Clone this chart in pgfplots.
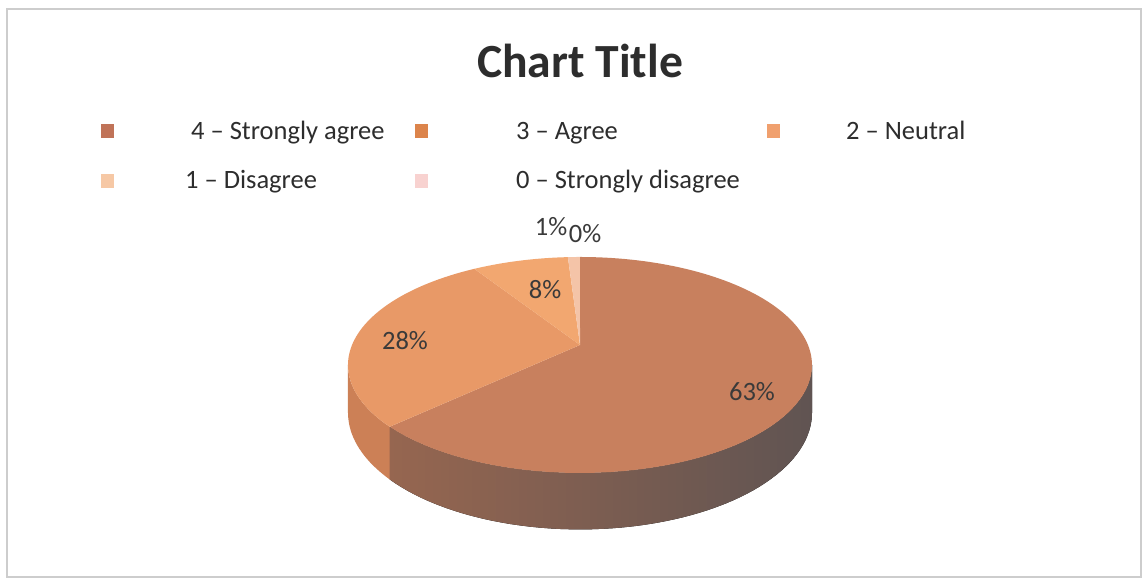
\documentclass[border=0pt]{standalone}
\usepackage{fontspec}
\setmainfont{Carlito}
\usepackage{pgfplots}
\usepackage{pgfplotstable}
\pgfplotsset{compat=1.18}

\definecolor{topA}{RGB}{200,128,94}
\definecolor{topB}{RGB}{232,153,103}
\definecolor{topC}{RGB}{242,167,112}
\definecolor{topD}{RGB}{244,196,168}
\definecolor{sideAL}{RGB}{150,102,80}
\definecolor{sideAR}{RGB}{96,84,82}
\definecolor{sideB}{RGB}{204,128,86}
\definecolor{legA}{RGB}{192,115,88}
\definecolor{legB}{RGB}{220,132,75}
\definecolor{legC}{RGB}{240,160,110}
\definecolor{legD}{RGB}{246,200,165}
\definecolor{legE}{RGB}{248,210,208}
\definecolor{txtgray}{RGB}{45,45,45}
\definecolor{lblgray}{RGB}{58,58,58}
\definecolor{framegray}{RGB}{205,205,205}

% category, share (%), label position (px)
\pgfplotstableread{
cat value lx ly
4 63 752 392
3 28 405 341
2 8 545 290
1 1 551 227
0 0 585 234
}\piedata

\newcommand\legfont{\fontsize{26.5bp}{30bp}\selectfont}

\begin{document}
\begin{tikzpicture}
\pgfplotstablegetelem{0}{value}\of\piedata\edef\vA{\pgfplotsretval}
\pgfplotstablegetelem{1}{value}\of\piedata\edef\vB{\pgfplotsretval}
\pgfplotstablegetelem{2}{value}\of\piedata\edef\vC{\pgfplotsretval}
\pgfplotstablegetelem{3}{value}\of\piedata\edef\vD{\pgfplotsretval}
\pgfplotstablegetelem{4}{value}\of\piedata\edef\vE{\pgfplotsretval}
\pgfmathsetmacro\tot{\vA+\vB+\vC+\vD+\vE}
\pgfmathsetmacro\tA{90}
\pgfmathsetmacro\tB{\tA-\vA/\tot*360}
\pgfmathsetmacro\tC{\tB-\vB/\tot*360}
\pgfmathsetmacro\tD{\tC-\vC/\tot*360}
\pgfmathsetmacro\tE{\tD-\vD/\tot*360}
% visible front side limits
\pgfmathsetmacro\sL{-169.34}
\pgfmathsetmacro\sR{-10.66}
\pgfmathsetmacro\sAlo{max(\tB,\sL)}
\pgfmathsetmacro\sAhi{min(\tA,\sR)}
\pgfmathsetmacro\sBlo{max(\tC,\sL)}
\pgfmathsetmacro\sBhi{min(\tB,\sR)}
\begin{axis}[
  x=1bp, y=1bp,
  xmin=0, xmax=1145, ymin=0, ymax=583,
  y dir=reverse,
  scale only axis,
  hide axis,
  clip=false,
  declare function={
    kk(\t)=1/(1+0.185*sin(\t));
    px(\t)=580+228*cos(\t)*kk(\t);
    py(\t)=345-104.3*sin(\t)*kk(\t);
    pd(\t)=46*kk(\t);
  },
]
% background and frame
\fill[white] (axis cs:0,0) rectangle (axis cs:1145,583);
\draw[framegray, line width=1.6bp] (axis cs:7,9) rectangle (axis cs:1141,577);

% title
\node[anchor=base, text=txtgray, font=\fontsize{47.6bp}{56bp}\selectfont\bfseries]
  at (axis cs:580,78) {Chart Title};

% side faces (front)
\fill[left color=sideAL, right color=sideAR]
  plot[domain=\sAlo:\sAhi, samples=60, variable=\t] ({px(\t)},{py(\t)})
  -- plot[domain=\sAhi:\sAlo, samples=60, variable=\t] ({px(\t)},{py(\t)+pd(\t)})
  -- cycle;
\fill[sideB]
  plot[domain=\sBlo:\sBhi, samples=20, variable=\t] ({px(\t)},{py(\t)})
  -- plot[domain=\sBhi:\sBlo, samples=20, variable=\t] ({px(\t)},{py(\t)+pd(\t)})
  -- cycle;

% top faces
\fill[topA] (axis cs:580,345) -- plot[domain=\tB:\tA, samples=120, variable=\t] ({px(\t)},{py(\t)}) -- cycle;
\fill[topB] (axis cs:580,345) -- plot[domain=\tC:\tB, samples=60, variable=\t] ({px(\t)},{py(\t)}) -- cycle;
\fill[topC] (axis cs:580,345) -- plot[domain=\tD:\tC, samples=20, variable=\t] ({px(\t)},{py(\t)}) -- cycle;
\fill[topD] (axis cs:580,345) -- plot[domain=\tE:\tD, samples=5, variable=\t] ({px(\t)},{py(\t)}) -- cycle;

% data labels
\addplot[only marks, mark=*, mark size=0pt, mark options={draw=none, fill=none},
  point meta=explicit symbolic,
  nodes near coords={\pgfplotspointmeta\%},
  every node near coord/.style={anchor=center, text=lblgray, font=\legfont, inner sep=0pt}]
  table[x=lx, y=ly, meta=value] {\piedata};

% legend
\addplot[only marks, mark=square*, mark size=6.3bp, color=legA] coordinates {(107,131)};
\addplot[only marks, mark=square*, mark size=6.3bp, color=legB] coordinates {(421,131)};
\addplot[only marks, mark=square*, mark size=6.3bp, color=legC] coordinates {(773,131)};
\addplot[only marks, mark=square*, mark size=6.3bp, color=legD] coordinates {(107,181)};
\addplot[only marks, mark=square*, mark size=6.3bp, color=legE] coordinates {(421,181)};
\node[anchor=base west, text=txtgray, font=\legfont, inner sep=0pt] at (axis cs:191,140) {4 -- Strongly agree};
\node[anchor=base west, text=txtgray, font=\legfont, inner sep=0pt] at (axis cs:516,140) {3 -- Agree};
\node[anchor=base west, text=txtgray, font=\legfont, inner sep=0pt] at (axis cs:846,140) {2 -- Neutral};
\node[anchor=base west, text=txtgray, font=\legfont, inner sep=0pt] at (axis cs:185,189) {1 -- Disagree};
\node[anchor=base west, text=txtgray, font=\legfont, inner sep=0pt] at (axis cs:516,189) {0 -- Strongly disagree};
\end{axis}
\end{tikzpicture}
\end{document}
